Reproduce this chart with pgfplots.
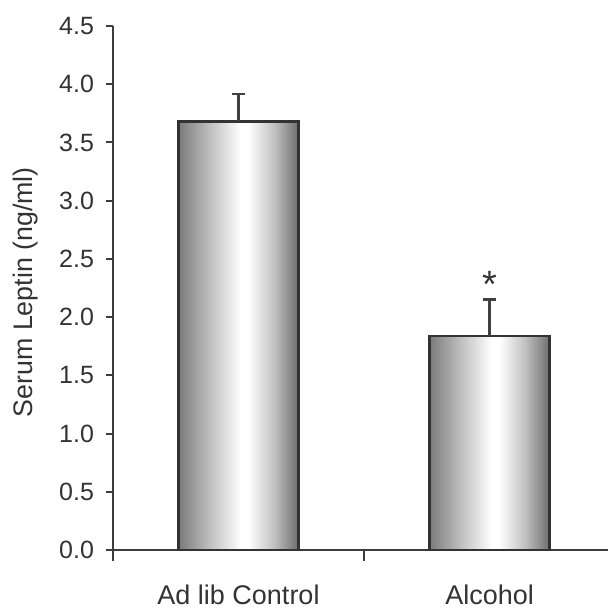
\documentclass[border=0pt]{standalone}
\usepackage{fontspec}
\setmainfont{Liberation Sans}
\usepackage{pgfplots}
\pgfplotsset{compat=1.18}
\definecolor{axcol}{HTML}{3C3C3C}
\definecolor{txtcol}{HTML}{333333}
\pgfdeclarehorizontalshading{barshade}{100bp}{%
  color(0bp)=(black!52); color(25bp)=(black!52);
  color(38bp)=(black!25);
  color(51bp)=(white); color(54bp)=(white);
  color(65bp)=(black!25);
  color(75bp)=(black!57); color(100bp)=(black!57)}
\pgfplotsset{leptinbar/.style={draw=black!80, line width=1.2pt,
  shading=barshade, shading angle=0,
  bar shift=0pt,
  error bars/.cd, y dir=plus, y explicit,
  error bar style={line width=1.2pt, draw=black!75},
  error mark options={rotate=90, mark size=3.25pt, line width=1.2pt, draw=black!75}}}
\begin{document}
\begin{tikzpicture}
\useasboundingbox (-56.5pt,-28.5pt) rectangle (247.5pt,275pt);
\begin{axis}[
  at={(0,0)}, anchor=south west,
  scale only axis,
  width=247.5pt, height=262pt,
  xmin=0.5, xmax=2.472,
  ymin=0, ymax=4.5,
  axis x line*=bottom, axis y line*=left,
  axis line style={draw=axcol, line width=1pt},
  tick align=outside,
  major tick length=3.5pt,
  minor tick length=5.5pt,
  ytick={0,0.5,...,4.5},
  xtick={1,2},
  xticklabels={Ad lib Control, Alcohol},
  minor xtick={0.5,1.5},
  every major x tick/.append style={draw=none},
  every tick/.append style={draw=axcol, line width=1pt},
  /pgf/number format/assume math mode=true,
  yticklabel style={/pgf/number format/.cd, fixed, fixed zerofill, precision=1, /tikz/.cd,
     font=\fontsize{12.5}{14}\selectfont, text=txtcol, xshift=-2.5pt},
  xticklabel style={font=\fontsize{13.5}{16}\selectfont, text=txtcol, anchor=base, yshift=-23.5pt},
  ylabel={Serum Leptin (ng/ml)},
  ylabel style={at={(axis description cs:-0.1758,0.492)}, anchor=center, rotate=0,
     font=\fontsize{13.4}{16}\selectfont, text=txtcol},
  ybar, bar width=60pt,
]
\addplot[leptinbar] coordinates {(1,3.68) +- (0,0.235)};
\addplot[leptinbar] coordinates {(2,1.84) +- (0,0.31)};
\node[font=\fontsize{19}{20}\selectfont, text=txtcol] at (axis cs:2,2.28) {*};
\end{axis}
\end{tikzpicture}
\end{document}
